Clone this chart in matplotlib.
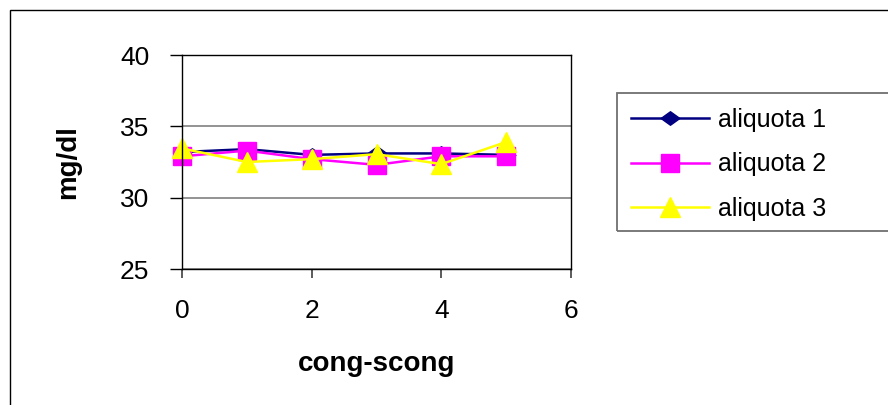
import matplotlib
matplotlib.use('agg')
from matplotlib import pyplot as plt, rcParams
from matplotlib.patches import Rectangle

rcParams['font.family'] = ['Liberation Sans', 'DejaVu Sans']

# data
x = [0, 1, 2, 3, 4, 5]
aliquota_1 = [33.2, 33.4, 33.0, 33.1, 33.1, 33.0]
aliquota_2 = [32.9, 33.3, 32.7, 32.3, 32.9, 32.9]
aliquota_3 = [33.45, 32.5, 32.7, 33.05, 32.35, 33.9]
labels = ['aliquota 1', 'aliquota 2', 'aliquota 3']
x_ticks = [0, 2, 4, 6]
y_ticks = [25, 30, 35, 40]

W, H = 888, 405
fig = plt.figure(figsize=(W / 100, H / 100), dpi=100)
ax = fig.add_axes([182 / W, 1 - 269 / H, (571 - 182) / W, (269 - 55) / H])

diamond = [(-1, 0), (0, 0.72), (1, 0), (0, -0.72), (-1, 0)]
ax.plot(x, aliquota_1, color='#000080', lw=1.8, marker=diamond, ms=13.5,
        label=labels[0], clip_on=False)
ax.plot(x, aliquota_2, color='#FF00FF', lw=1.8, marker='s', ms=13.5,
        label=labels[1], clip_on=False)
ax.plot(x, aliquota_3, color='#FFFF00', lw=1.8, marker='^', ms=15,
        label=labels[2], clip_on=False)

ax.set_xlim(0, 6)
ax.set_ylim(25, 40)
ax.set_xticks(x_ticks)
ax.set_yticks(y_ticks)
ax.yaxis.grid(True, color='#808080', lw=1.2)
ax.set_axisbelow(True)
for s in ax.spines.values():
    s.set_color('black')
    s.set_linewidth(1.0)
ax.tick_params(axis='y', direction='out', length=8.6, width=1.0, pad=15, labelsize=19)
ax.tick_params(axis='x', direction='out', length=6.5, width=1.2, pad=15, labelsize=19,
               color='#404040')

ax.set_ylabel('mg/dl', fontsize=20, fontweight='bold', labelpad=28)
ax.set_xlabel('cong-scong', fontsize=20, fontweight='bold', labelpad=20)

# outer chart border and legend box
fig.patches.append(Rectangle((10 / W, -0.1), 1.0, 1.1 - 10 / H, transform=fig.transFigure,
                             fill=False, ec='black', lw=1.0))
fig.patches.append(Rectangle((617 / W, 1 - 231 / H), 0.5, (231 - 93) / H,
                             transform=fig.transFigure, fill=False, ec='#707070', lw=1.3))

fig.legend(loc='upper left', bbox_to_anchor=(631 / W, 1 - 108 / H), frameon=False,
           fontsize=18, handlelength=3.1, handletextpad=0.36, labelspacing=0.82,
           borderpad=0, borderaxespad=0)

fig.savefig('out.png', dpi=100)
